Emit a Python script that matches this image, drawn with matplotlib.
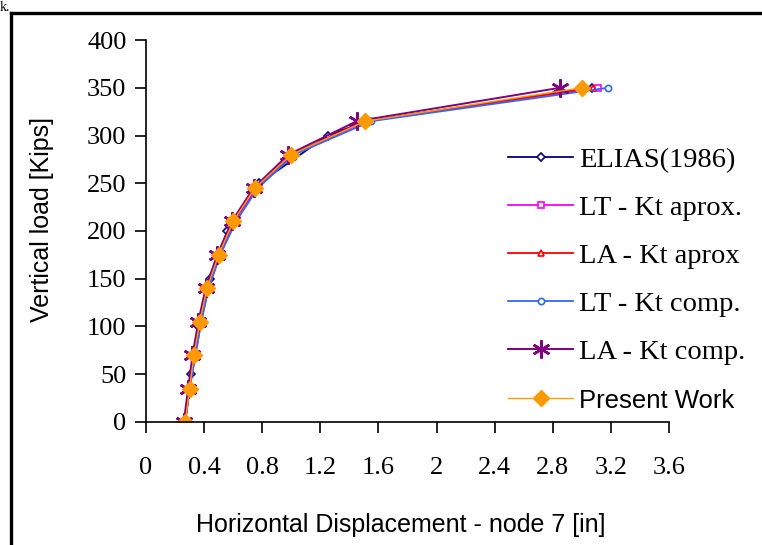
import matplotlib
matplotlib.use("Agg")
import matplotlib.pyplot as plt
from matplotlib.lines import Line2D

# vertical load steps [kips]
loads = [0, 35, 70, 105, 140, 175, 210, 245, 280, 315, 350]
elias_loads = [0, 50, 100, 150, 200, 250, 300, 315, 350]

# horizontal displacement of node 7 [in]
elias = [0.27, 0.31, 0.36, 0.44, 0.56, 0.78, 1.25, 1.52, 3.07]
lt_aprox = [0.27, 0.30, 0.34, 0.38, 0.43, 0.51, 0.61, 0.76, 1.01, 1.52, 3.11]
la_aprox = [0.27, 0.30, 0.33, 0.37, 0.42, 0.50, 0.60, 0.75, 1.00, 1.50, 3.08]
lt_comp = [0.27, 0.30, 0.34, 0.38, 0.43, 0.51, 0.62, 0.77, 1.02, 1.55, 3.18]
la_comp = [0.26, 0.29, 0.32, 0.36, 0.41, 0.49, 0.59, 0.74, 0.98, 1.45, 2.85]
present = [0.27, 0.30, 0.33, 0.37, 0.42, 0.50, 0.60, 0.75, 1.00, 1.51, 3.00]

x_ticks = [0, 0.4, 0.8, 1.2, 1.6, 2, 2.4, 2.8, 3.2, 3.6]
x_labels = ["0", "0.4", "0.8", "1.2", "1.6", "2", "2.4", "2.8", "3.2", "3.6"]
y_ticks = [0, 50, 100, 150, 200, 250, 300, 350, 400]

serif = "Liberation Serif"
sans = "Liberation Sans"

fig = plt.figure(figsize=(7.62, 5.45), dpi=100)
ax = fig.add_axes([0.1916, 0.2257, 0.6864, 0.7009])

ax.plot(elias, elias_loads, color="#000080", lw=1.3, marker="D", ms=4.5,
        mfc="white", mec="#000080", mew=1.2, label="ELIAS(1986)")
ax.plot(lt_aprox, loads, color="#FF00FF", lw=1.3, marker="s", ms=5,
        mfc="white", mec="#FF00FF", mew=1.2, label="LT - Kt aprox.")
ax.plot(la_aprox, loads, color="#FF0000", lw=1.3, marker="^", ms=5,
        mfc="white", mec="#FF0000", mew=1.2, label="LA - Kt aprox")
ax.plot(lt_comp, loads, color="#3366FF", lw=1.3, marker="o", ms=4.5,
        mfc="white", mec="#3366FF", mew=1.2, label="LT - Kt comp.")
ax.plot(la_comp, loads, color="#800080", lw=1.4, marker=(6, 2, 0), ms=13,
        mec="#800080", mew=1.8, label="LA - Kt comp.")
ax.plot(present, loads, color="#FFA000", lw=1.0, marker="D", ms=8,
        mfc="#FF9900", mec="#FF9900", label="Present Work")

ax.set_xlim(0, 3.6)
ax.set_ylim(0, 400)
ax.set_xticks(x_ticks)
ax.set_xticklabels(x_labels)
ax.set_yticks(y_ticks)
for side in ["top", "right"]:
    ax.spines[side].set_visible(False)
for side in ["left", "bottom"]:
    ax.spines[side].set_linewidth(1.2)
ax.tick_params(axis="both", direction="out", length=8, width=1.2,
               labelsize=19)
ax.tick_params(axis="x", pad=17)
ax.tick_params(axis="y", pad=6)
for lab in ax.get_xticklabels() + ax.get_yticklabels():
    lab.set_fontfamily(serif)

ax.set_xlabel("Horizontal Displacement - node 7 [in]", fontsize=18,
              fontfamily=sans)
ax.xaxis.set_label_coords(0.487, -0.237)
ax.set_ylabel("Vertical load [Kips]", fontsize=18, fontfamily=sans)
ax.yaxis.set_label_coords(-0.176, 0.53)

leg = ax.legend(loc="upper left", bbox_to_anchor=(0.67, 0.75), frameon=False,
                fontsize=20.5, handlelength=2.3, handletextpad=0.2,
                labelspacing=0.78, borderaxespad=0)
for i, txt in enumerate(leg.get_texts()):
    txt.set_fontfamily(sans if i == 5 else serif)
    if i == 5:
        txt.set_fontsize(18.5)

# frame lines of the original figure box
fig.add_artist(Line2D([0.0144, 1.0], [0.976, 0.976], color="black", lw=2.4))
fig.add_artist(Line2D([0.0144, 0.0144], [0.0, 0.976], color="black", lw=2.4))
fig.text(0.0, 0.999, "k.", fontsize=10, fontfamily=serif, va="top")

fig.savefig("out.png", dpi=100)
